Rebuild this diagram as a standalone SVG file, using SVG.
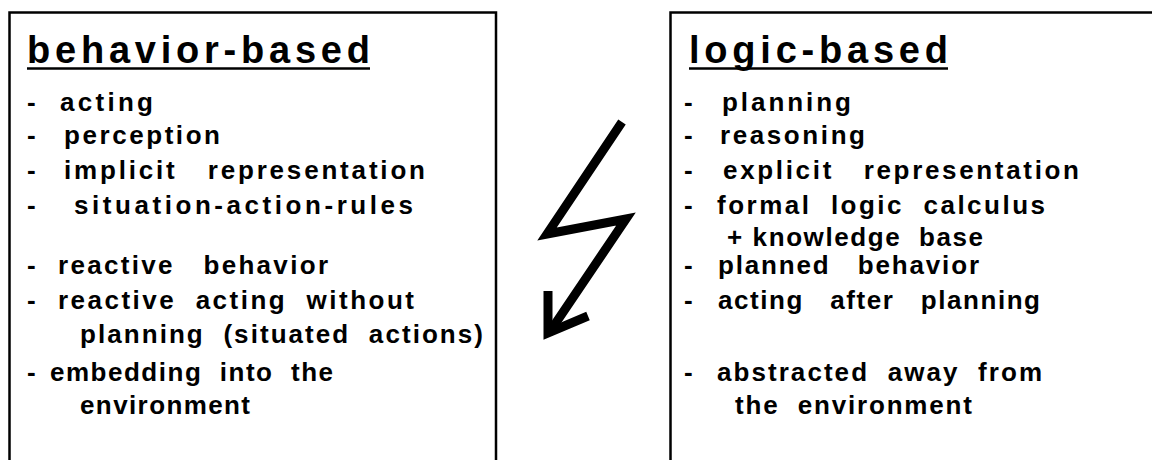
<svg xmlns="http://www.w3.org/2000/svg" width="1152" height="460" viewBox="0 0 1152 460">
<style>
text{font-family:"Liberation Sans",Arial,sans-serif;font-weight:bold;fill:#000;white-space:pre}
.t{font-size:38px}
.b{font-size:26px}
.box{fill:none;stroke:#000;stroke-width:2.5}
.ul{stroke:#000;stroke-width:2.5}
</style>
<rect width="1152" height="460" fill="#fff"/>
<g id="behavior-based">
<path class="box" d="M9.5,470 V12.5 H496 V470"/>
<text class="t" x="27" y="63" textLength="343" lengthAdjust="spacing">behavior-based</text>
<line class="ul" x1="27" y1="68.5" x2="370" y2="68.5"/>
<text class="b" x="27" y="111">-</text><text class="b" x="60" y="111" textLength="93" lengthAdjust="spacing">acting</text>
<text class="b" x="27" y="144">-</text><text class="b" x="64" y="144" textLength="156" lengthAdjust="spacing">perception</text>
<text class="b" x="27" y="179">-</text><text class="b" x="64" y="179" textLength="361" lengthAdjust="spacing">implicit   representation</text>
<text class="b" x="27" y="214">-</text><text class="b" x="74" y="214" textLength="339" lengthAdjust="spacing">situation-action-rules</text>
<text class="b" x="27" y="274">-</text><text class="b" x="58" y="274" textLength="270" lengthAdjust="spacing">reactive   behavior</text>
<text class="b" x="27" y="309">-</text><text class="b" x="58" y="309" textLength="356" lengthAdjust="spacing">reactive  acting  without</text>
<text class="b" x="80" y="343" textLength="403" lengthAdjust="spacing">planning  (situated  actions)</text>
<text class="b" x="27" y="381">-</text><text class="b" x="50" y="381" textLength="283" lengthAdjust="spacing">embedding  into  the</text>
<text class="b" x="80" y="414" textLength="170" lengthAdjust="spacing">environment</text>
</g>
<g id="logic-based">
<path class="box" d="M670.5,470 V12.5 H1160"/>
<text class="t" x="689" y="63" textLength="259" lengthAdjust="spacing">logic-based</text>
<line class="ul" x1="689" y1="68.5" x2="948" y2="68.5"/>
<text class="b" x="684" y="111">-</text><text class="b" x="722" y="111" textLength="129" lengthAdjust="spacing">planning</text>
<text class="b" x="684" y="144">-</text><text class="b" x="720" y="144" textLength="145" lengthAdjust="spacing">reasoning</text>
<text class="b" x="684" y="179">-</text><text class="b" x="723" y="179" textLength="356" lengthAdjust="spacing">explicit   representation</text>
<text class="b" x="684" y="214">-</text><text class="b" x="717" y="214" textLength="328" lengthAdjust="spacing">formal  logic  calculus</text>
<text class="b" x="727" y="246" textLength="256" lengthAdjust="spacing">+ knowledge  base</text>
<text class="b" x="684" y="274">-</text><text class="b" x="718" y="274" textLength="261" lengthAdjust="spacing">planned   behavior</text>
<text class="b" x="684" y="309">-</text><text class="b" x="718" y="309" textLength="322" lengthAdjust="spacing">acting   after   planning</text>
<text class="b" x="684" y="381">-</text><text class="b" x="717" y="381" textLength="325" lengthAdjust="spacing">abstracted  away  from</text>
<text class="b" x="735" y="414" textLength="237" lengthAdjust="spacing">the  environment</text>
</g>
<g id="connectors" fill="none" stroke="#000" stroke-width="9" stroke-linejoin="miter" stroke-linecap="butt">
<path d="M622,122 L547,234 L626,219 L549,333"/>
<path d="M548,291 V333 L588,316"/>
</g>
</svg>
